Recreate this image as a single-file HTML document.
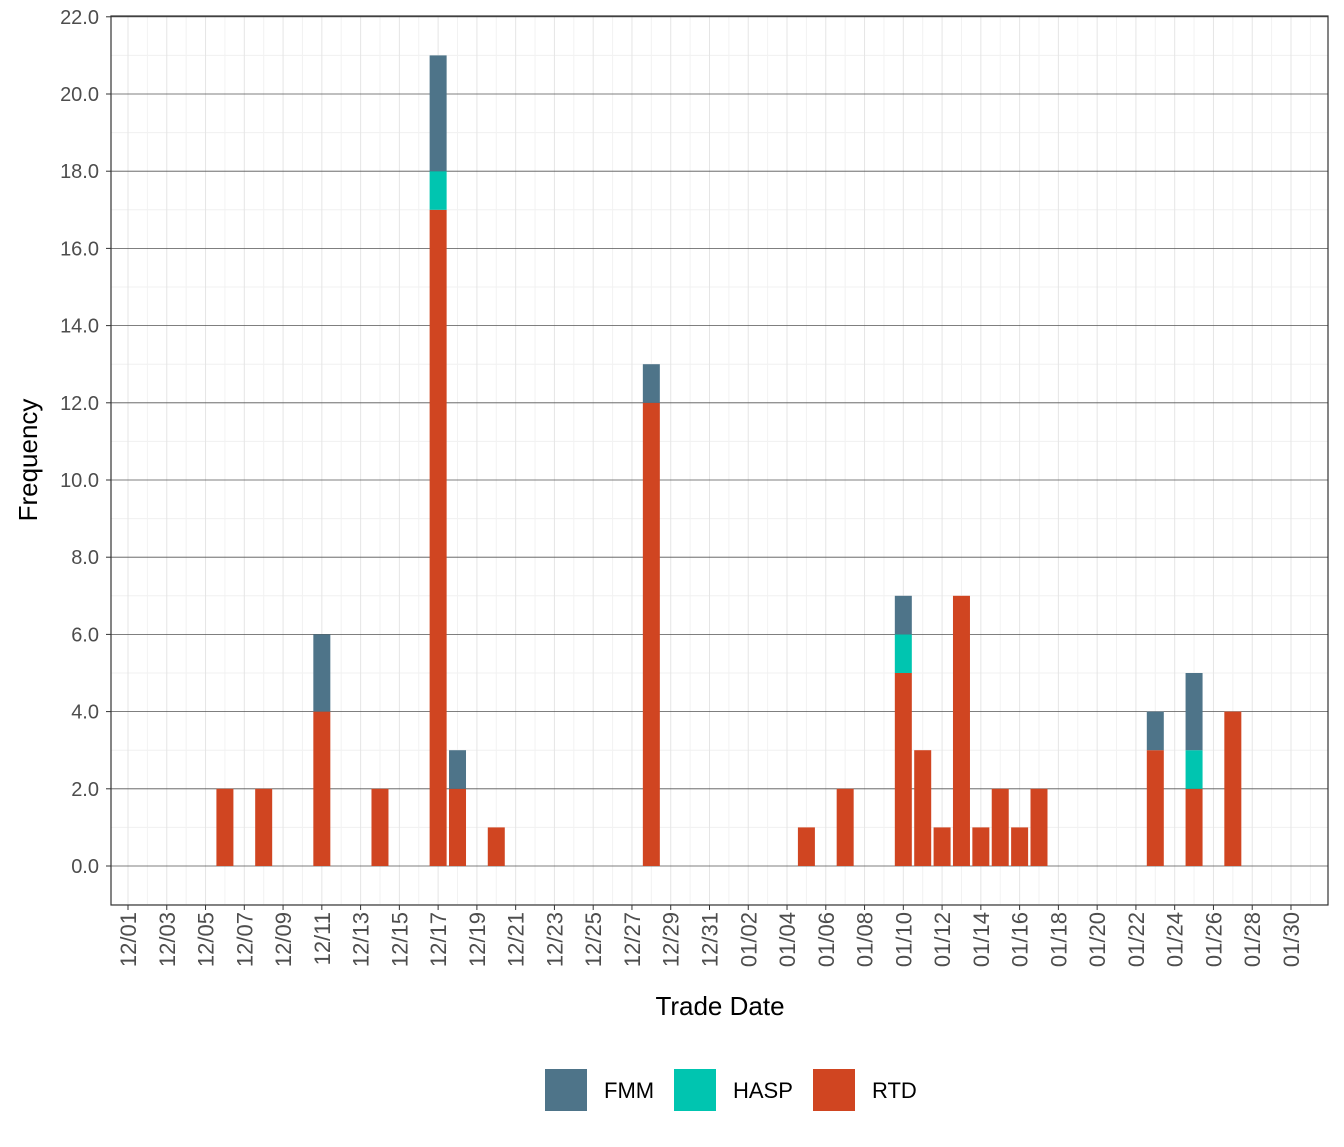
<!DOCTYPE html>
<html><head><meta charset="utf-8"><style>
body{margin:0;background:#fff;font-family:"Liberation Sans",Arial,sans-serif;}
</style></head><body>
<svg id="chart" width="1344" height="1142" xmlns="http://www.w3.org/2000/svg" font-family="Liberation Sans, Arial, sans-serif"></svg>
<script>
const dates = ["12/06","12/08","12/11","12/14","12/17","12/18","12/20","12/28","01/05","01/07","01/10","01/11","01/12","01/13","01/14","01/15","01/16","01/17","01/23","01/25","01/27"];
const rtd  = [2,2,4,2,17,2,1,12,1,2,5,3,1,7,1,2,1,2,3,2,4];
const hasp = [0,0,0,0,1,0,0,0,0,0,1,0,0,0,0,0,0,0,0,1,0];
const fmm  = [0,0,2,0,3,1,0,1,0,0,1,0,0,0,0,0,0,0,1,2,0];
const yTicks = [0,2,4,6,8,10,12,14,16,18,20,22];
const xTickLabels = ["12/01","12/03","12/05","12/07","12/09","12/11","12/13","12/15","12/17","12/19","12/21","12/23","12/25","12/27","12/29","12/31","01/02","01/04","01/06","01/08","01/10","01/12","01/14","01/16","01/18","01/20","01/22","01/24","01/26","01/28","01/30"];

const svg=document.getElementById('chart');
const NS="http://www.w3.org/2000/svg";
const L=111,R=1328,T=16,B=905;
const y=v=>866-v*38.6;
function dayIndex(s){const [m,d]=s.split('/').map(Number);return m===12?d-1:30+d;}
const x=s=>128+dayIndex(s)*19.383;
function el(tag,attrs,parent){const e=document.createElementNS(NS,tag);for(const k in attrs)e.setAttribute(k,attrs[k]);(parent||svg).appendChild(e);return e;}

const grid=el('g',{});


for(let v=-1;v<=22;v+=2){const yy=y(v);if(yy>T&&yy<B)el('line',{x1:L,x2:R,y1:yy,y2:yy,stroke:'#f0f0f0','stroke-width':1},grid);}
for(let i=0;i<=61;i++){const xx=128+i*19.383;if(xx>L&&xx<R)el('line',{x1:xx,x2:xx,y1:T,y2:B,stroke:i%2===0?'#e5e5e5':'#f2f2f2','stroke-width':1},grid);}
yTicks.forEach(v=>el('line',{x1:L,x2:R,y1:y(v),y2:y(v),stroke:'#555','stroke-width':0.8},grid));

const bw=17;
dates.forEach((d,i)=>{
  const xc=x(d);let base=0;
  [[rtd[i],'#D04521','rtd'],[hasp[i],'#00C5B0','hasp'],[fmm[i],'#4E7489','fmm']].forEach(([v,c,n])=>{
    if(v>0){const r=el('rect',{x:xc-bw/2,y:y(base+v),width:bw,height:y(base)-y(base+v),fill:c});
      
      
      base+=v;}
  });
});

const frame=el('rect',{x:L,y:T,width:R-L,height:B-T,fill:'none',stroke:'#333','stroke-width':1.2});



yTicks.forEach(v=>{
  el('line',{x1:L-5,x2:L,y1:y(v),y2:y(v),stroke:'#333'});
  const t=el('text',{x:L-12,y:y(v)+7,'text-anchor':'end','font-size':20,fill:'#4d4d4d'});
  t.textContent=v.toFixed(1);
  
  
});
xTickLabels.forEach(s=>{
  const xx=x(s);
  el('line',{x1:xx,x2:xx,y1:B,y2:B+5,stroke:'#333'});
  const t=el('text',{x:0,y:0,'text-anchor':'end','font-size':22,fill:'#4d4d4d',transform:`translate(${xx+8},${B+7}) rotate(-90)`});
  t.textContent=s;
  
  
});
const xt=el('text',{x:720,y:1015,'text-anchor':'middle','font-size':26,fill:'#000'});
xt.textContent='Trade Date';


const yt=el('text',{x:0,y:0,'text-anchor':'middle','font-size':26,fill:'#000',transform:'translate(37,460) rotate(-90)'});
yt.textContent='Frequency';



const legend=[["FMM","#4E7489",545],["HASP","#00C5B0",674],["RTD","#D04521",813]];
legend.forEach(([n,c,lx])=>{
  const g=el('g',{});
  
  
  el('rect',{x:lx,y:1069,width:42,height:42,fill:c},g);
  const t=el('text',{x:lx+59,y:1098,'font-size':22,fill:'#000'},g);
  t.textContent=n;
});
</script>
</body></html>
